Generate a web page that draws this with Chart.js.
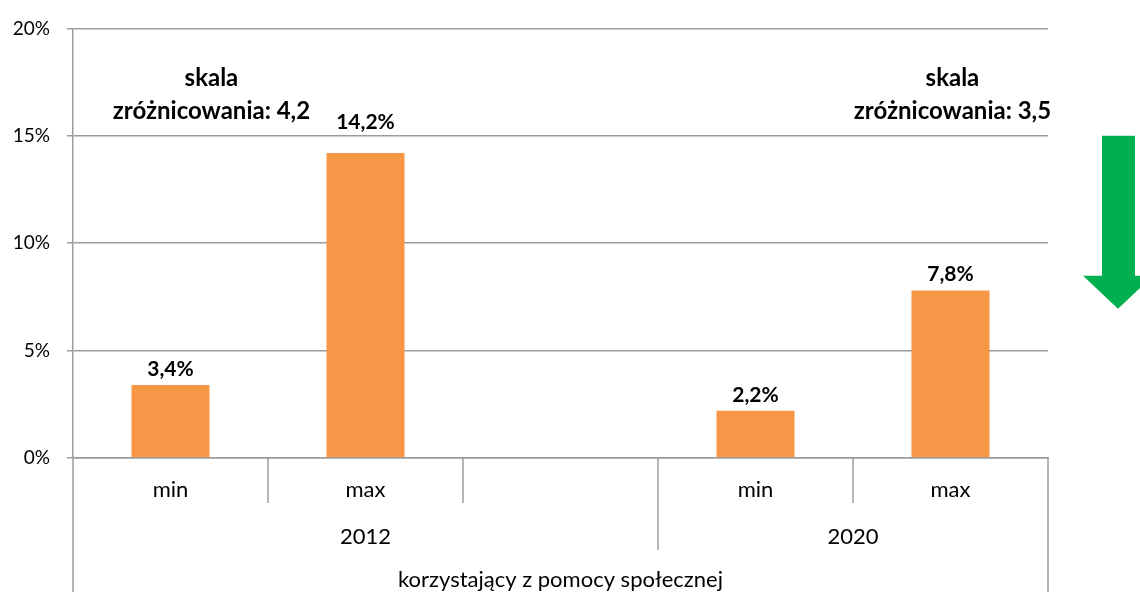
<!DOCTYPE html>
<html lang="pl">
<head>
<meta charset="UTF-8">
<title>Skala zróżnicowania</title>
<script src="https://cdn.jsdelivr.net/npm/chart.js"></script>
<style>
    html, body { margin: 0; padding: 0; background: #ffffff; }
    #wrap { width: 1140px; height: 592px; position: relative; }
</style>
</head>
<body>
<div id="wrap"><canvas id="chart"></canvas></div>
<script>
    // categories: min/max per year, one empty slot between the years
    const categories = ['min', 'max', '', 'min', 'max'];
    const shares = [3.4, 14.2, null, 2.2, 7.8];
    const groups = [
        { label: '2012', from: 0, to: 2 },
        { label: '2020', from: 3, to: 4 }
    ];
    const axisTitle = 'korzystający z pomocy społecznej';
    const notes = [
        { lines: ['skala', 'zróżnicowania: 4,2'], x: 0.21, y: [17.7, 16.15] },
        { lines: ['skala', 'zróżnicowania: 3,5'], x: 4.01, y: [17.7, 16.15] }
    ];

    const FONT = 'Lato, "Open Sans", sans-serif';
    const GRID = '#9c9c9c';

    const fmt = v => v.toFixed(1).replace('.', ',') + '%';

    const multiAxis = {
        id: 'multiAxis',
        afterDraw(chart) {
            const ctx = chart.ctx;
            const x = chart.scales.x;
            const y = chart.scales.y;
            const area = chart.chartArea;
            const H = chart.height;
            const step = x.getPixelForValue(1) - x.getPixelForValue(0);
            const edge = i => x.getPixelForValue(i) - step / 2;
            ctx.save();
            ctx.strokeStyle = GRID;
            ctx.lineWidth = 1.5;
            // dividers below the axis
            for (let i = 0; i <= categories.length; i++) {
                let end = area.bottom + 45;
                if (i === 0 || i === categories.length) end = H;
                else if (groups.some(g => g.from === i)) end = area.bottom + 92;
                ctx.beginPath();
                ctx.moveTo(edge(i), area.bottom);
                ctx.lineTo(edge(i), end);
                ctx.stroke();
            }
            ctx.fillStyle = '#000';
            ctx.textAlign = 'center';
            ctx.textBaseline = 'middle';
            ctx.font = '22px ' + FONT;
            categories.forEach((c, i) => {
                if (c) ctx.fillText(c, x.getPixelForValue(i), area.bottom + 32);
            });
            groups.forEach(g => {
                const cx = (edge(g.from) + edge(g.to + 1)) / 2;
                ctx.fillText(g.label, cx, area.bottom + 79);
            });
            ctx.fillText(axisTitle, (area.left + area.right) / 2, area.bottom + 122);

            // value labels on the bars, lifted above a gridline they would cross
            const gridPx = y.ticks.map(t => y.getPixelForValue(t.value));
            ctx.font = 'bold 21px ' + FONT;
            ctx.textBaseline = 'alphabetic';
            shares.forEach((v, i) => {
                if (v == null) return;
                let base = y.getPixelForValue(v) - 9;
                const hit = gridPx.find(g => g < base + 3 && g > base - 18);
                if (hit !== undefined) base = hit - 7;
                ctx.fillText(fmt(v), x.getPixelForValue(i), base);
            });

            // notes
            ctx.font = 'bold 24px ' + FONT;
            ctx.textBaseline = 'middle';
            notes.forEach(n => {
                const px = area.left + (n.x + 0.5) * step;
                n.lines.forEach((t, k) => ctx.fillText(t, px, y.getPixelForValue(n.y[k])));
            });

            // green down arrow at the right edge
            const ax = area.right + 70;
            const top = y.getPixelForValue(15);
            const headTop = top + 140;
            const tip = top + 173;
            ctx.fillStyle = '#00b050';
            ctx.beginPath();
            ctx.moveTo(ax - 16, top);
            ctx.lineTo(ax + 17, top);
            ctx.lineTo(ax + 17, headTop);
            ctx.lineTo(ax + 35, headTop);
            ctx.lineTo(ax, tip);
            ctx.lineTo(ax - 35, headTop);
            ctx.lineTo(ax - 16, headTop);
            ctx.closePath();
            ctx.fill();
            ctx.restore();
        }
    };

    new Chart(document.getElementById('chart'), {
        type: 'bar',
        data: {
            labels: categories,
            datasets: [{
                data: shares,
                backgroundColor: '#f79646',
                barPercentage: 0.4,
                categoryPercentage: 1.0
            }]
        },
        options: {
            responsive: true,
            maintainAspectRatio: false,
            animation: false,
            layout: { padding: { top: 27, right: 92, bottom: 0, left: 0 } },
            plugins: {
                legend: { display: false },
                tooltip: { enabled: false }
            },
            scales: {
                x: {
                    afterFit(scale) { scale.height = 134; },
                    ticks: { display: false },
                    grid: { display: false, drawTicks: false },
                    border: { color: GRID, width: 1.5 }
                },
                y: {
                    min: 0,
                    max: 20,
                    afterFit(scale) { scale.width = 73; },
                    ticks: {
                        stepSize: 5,
                        padding: 17,
                        color: '#000',
                        font: { family: FONT, size: 19 },
                        callback: v => v + '%'
                    },
                    grid: { color: GRID, lineWidth: 1.5, tickLength: 6 },
                    border: { color: GRID, width: 1.5 }
                }
            }
        },
        plugins: [multiAxis]
    });
</script>
</body>
</html>
